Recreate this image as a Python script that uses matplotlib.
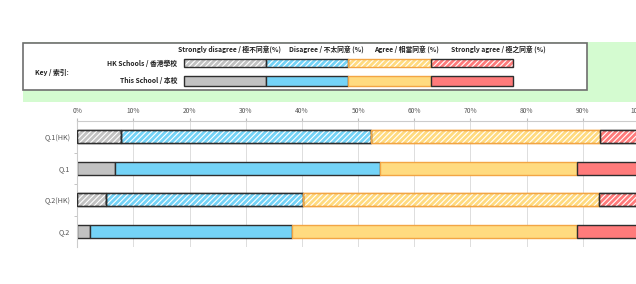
import matplotlib.pyplot as plt
from matplotlib.patches import Rectangle

plt.rcParams['font.family'] = ['Noto Sans CJK TC', 'DejaVu Sans']
plt.rcParams['hatch.linewidth'] = 0.8

# survey data (% of respondents)
questions = ['Q.1(HK)', 'Q.1', 'Q.2(HK)', 'Q.2']
hk_rows = [True, False, True, False]
strongly_disagree = [7.7, 6.8, 5.1, 2.3]
disagree = [44.6, 47.1, 35.0, 35.9]
agree = [40.8, 35.0, 52.7, 50.7]
strongly_agree = [6.9, 11.1, 7.2, 11.1]

headers = ['Strongly disagree / 極不同意(%)', 'Disagree / 不太同意 (%)',
           'Agree / 相當同意 (%)', 'Strongly agree / 極之同意 (%)']
row_labels = ['HK Schools / 香港學校', 'This School / 本校']
key_label = 'Key / 索引:'
xticks = [0, 10, 20, 30, 40, 50, 60, 70, 80, 90, 100]

face = ['#c2c2c2', '#74d3f7', '#ffdb80', '#ff7b7b']
edge = ['#2e2e2e', '#2e2e2e', '#f2a544', '#2e2e2e']

W, H = 636, 284
fig = plt.figure(figsize=(W / 100, H / 100), dpi=100)

# ---- key panel (pixel coordinates) ----
kx = fig.add_axes([0, 0, 1, 1])
kx.set_xlim(0, W)
kx.set_ylim(H, 0)
kx.axis('off')
kx.add_patch(Rectangle((23, 42), 620, 60, facecolor='#d4fbd0', edgecolor='none'))
kx.add_patch(Rectangle((23, 43), 564, 47, facecolor='white', edgecolor='#6e6e6e', lw=1.2))

fs = 4.9
hx = [178, 289, 374, 451]
for x, t in zip(hx, headers):
    kx.text(x, 49.5, t, fontsize=fs, fontweight='bold', va='center', ha='left', color='#222222')
kx.text(177, 63, row_labels[0], fontsize=fs, fontweight='bold', va='center', ha='right', color='#222222')
kx.text(177, 80.5, row_labels[1], fontsize=fs, fontweight='bold', va='center', ha='right', color='#222222')
kx.text(35, 72, key_label, fontsize=fs, fontweight='bold', va='center', ha='left', color='#222222')

seg = 82.2
for i in range(4):
    x0 = 184 + i * seg
    # HK (hatched)
    kx.add_patch(Rectangle((x0, 59), seg, 8, facecolor=face[i], edgecolor='none', zorder=2))
    kx.add_patch(Rectangle((x0, 59), seg, 8, facecolor='none', edgecolor='white', lw=0,
                           hatch='//////', zorder=3))
    kx.add_patch(Rectangle((x0, 59), seg, 8, facecolor='none', edgecolor=edge[i], lw=1.0, zorder=4))
    # this school
    kx.add_patch(Rectangle((x0, 76), seg, 10, facecolor=face[i], edgecolor=edge[i], lw=1.0, zorder=2))

# ---- main chart ----
ax = fig.add_axes([77.3 / W, 37 / H, 561.7 / W, 126 / H])
segments = [strongly_disagree, disagree, agree, strongly_agree]
ypos = list(range(len(questions)))
left = [0.0] * len(questions)
for k, vals in enumerate(segments):
    for j, q in enumerate(questions):
        ax.barh(ypos[j], vals[j], left=left[j], height=0.42, color=face[k],
                edgecolor=edge[k], lw=1.0, zorder=2)
        if hk_rows[j]:
            ax.barh(ypos[j], vals[j], left=left[j], height=0.42, color='none',
                    edgecolor='white', lw=0, hatch='//////', zorder=3)
            ax.barh(ypos[j], vals[j], left=left[j], height=0.42, color='none',
                    edgecolor=edge[k], lw=1.0, zorder=4)
    left = [l + v for l, v in zip(left, vals)]

ax.set_xlim(0, 100)
ax.set_ylim(len(questions) - 0.5, -0.5)
ax.xaxis.tick_top()
ax.set_xticks(xticks)
ax.set_xticklabels([f'{t}%' for t in xticks], fontsize=4.8, color='#555555')
ax.tick_params(axis='x', length=2, color='#bbbbbb', pad=2)
ax.set_yticks(ypos)
ax.set_yticklabels(questions, fontsize=5.2, color='#555555')
ax.set_yticks([y + 0.5 for y in ypos[:-1]], minor=True)
ax.tick_params(axis='y', which='major', length=0, pad=5)
ax.tick_params(axis='y', which='minor', length=2, color='#bbbbbb')
ax.grid(axis='x', color='#dddddd', lw=0.7, zorder=0)
for s in ['right', 'bottom']:
    ax.spines[s].set_visible(False)
for s in ['top', 'left']:
    ax.spines[s].set_color('#cccccc')
    ax.spines[s].set_linewidth(0.8)

fig.savefig('out.png', dpi=100)
